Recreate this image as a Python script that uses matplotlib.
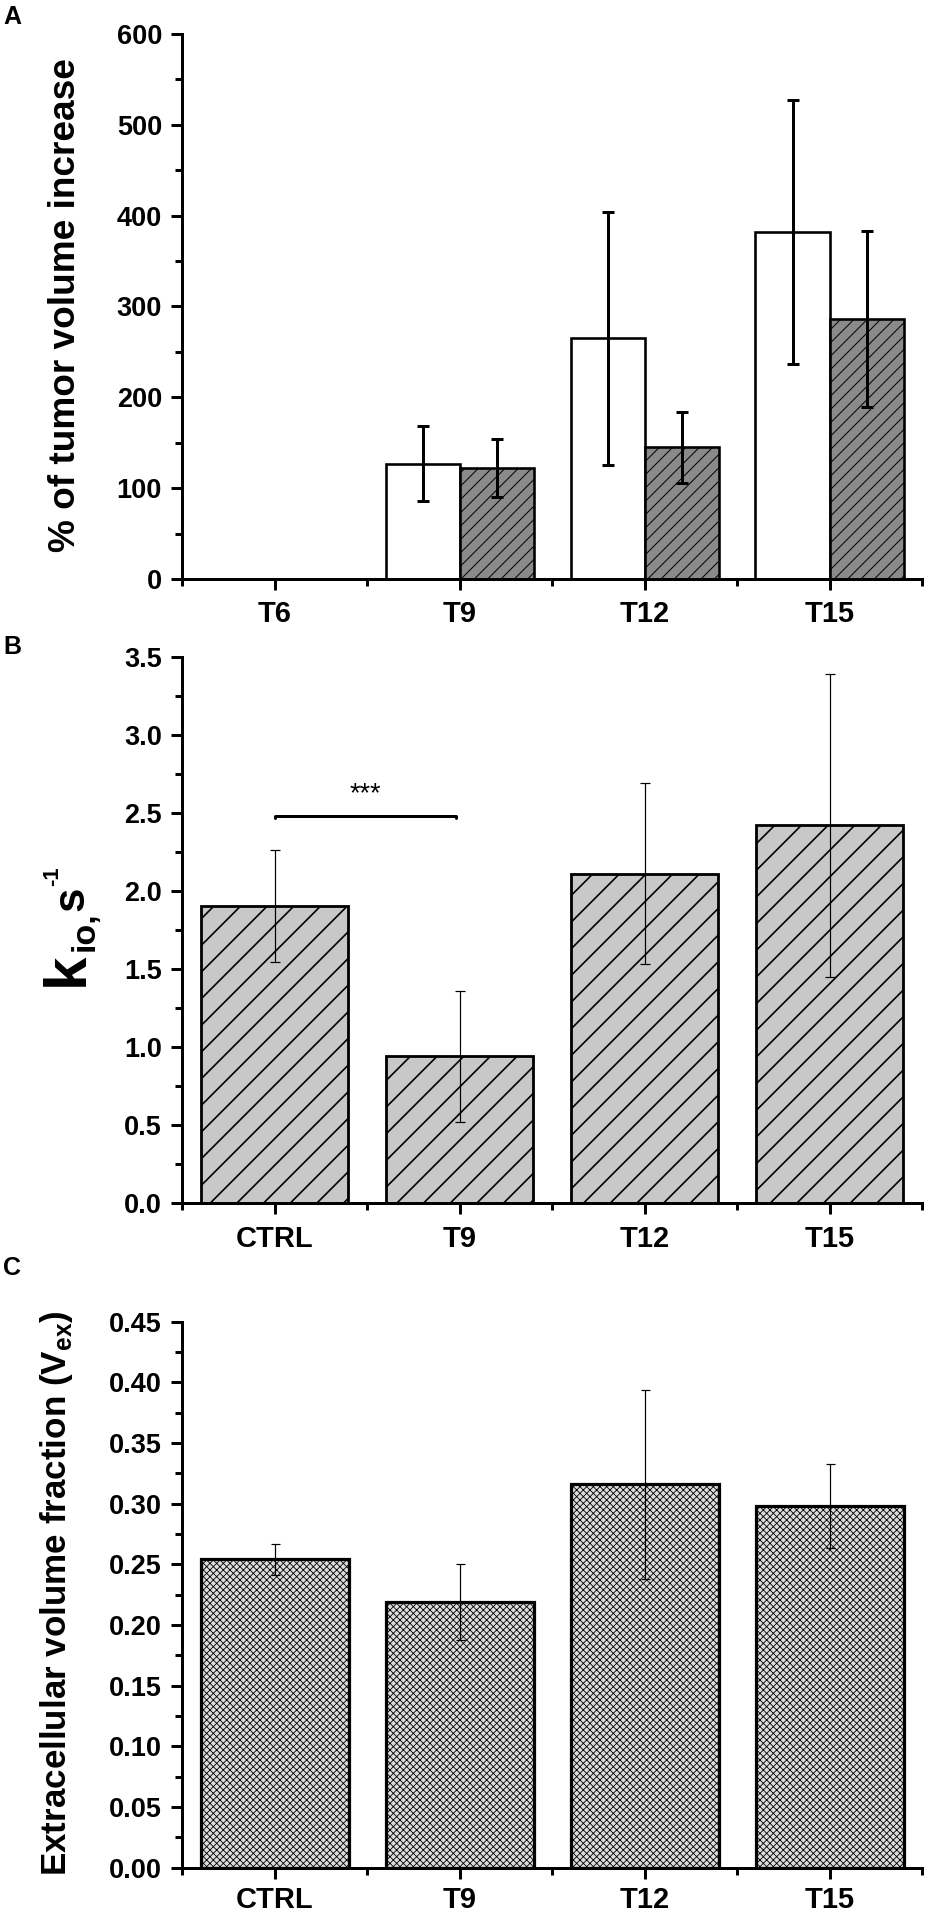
import numpy as np
import matplotlib
matplotlib.use('Agg')
import matplotlib.pyplot as plt
from matplotlib.ticker import MultipleLocator, FixedLocator, FuncFormatter

DPI = 80
W, H = 927, 1910

def pt(p):
    return p * 72.0 / DPI

plt.rcParams['font.family'] = ['Liberation Sans', 'DejaVu Sans']
plt.rcParams['font.weight'] = 'bold'
plt.rcParams['mathtext.fontset'] = 'custom'
plt.rcParams['mathtext.rm'] = 'Liberation Sans:bold'
plt.rcParams['mathtext.bf'] = 'Liberation Sans:bold'

# ---------------- data ----------------
groupsA = ['T6', 'T9', 'T12', 'T15']
ctrlA = [0, 127, 265, 382]
ctrlA_err = [0, 41, 139, 145]
treatA = [0, 122, 145, 286]
treatA_err = [0, 32, 39, 97]

catsB = ['CTRL', 'T9', 'T12', 'T15']
kio = [1.90, 0.94, 2.11, 2.42]
kio_err = [0.36, 0.42, 0.58, 0.97]

catsC = ['CTRL', 'T9', 'T12', 'T15']
vex = [0.254, 0.219, 0.316, 0.298]
vex_err = [0.013, 0.031, 0.078, 0.0345]

fig = plt.figure(figsize=(W / DPI, H / DPI), dpi=DPI)
fig.patch.set_facecolor('white')

LEFT, RIGHT = 182, 922

def make_ax(top, bottom):
    return fig.add_axes([LEFT / W, 1 - bottom / H, (RIGHT - LEFT) / W, (bottom - top) / H])

def style(ax, ylim, ymaj, ymin, fmt, cats, xpad):
    ax.set_xlim(0.5, 4.5)
    ax.set_ylim(*ylim)
    for s in ['top', 'right']:
        ax.spines[s].set_visible(False)
    for s in ['left', 'bottom']:
        ax.spines[s].set_linewidth(pt(3))
    ax.yaxis.set_major_locator(MultipleLocator(ymaj))
    ax.yaxis.set_minor_locator(MultipleLocator(ymin))
    ax.yaxis.set_major_formatter(FuncFormatter(lambda v, p: fmt.format(v)))
    ax.xaxis.set_major_locator(FixedLocator([1, 2, 3, 4]))
    ax.xaxis.set_minor_locator(FixedLocator([0.5, 1.5, 2.5, 3.5, 4.5]))
    ax.set_xticklabels(cats)
    ax.tick_params(which='major', direction='out', length=pt(11), width=pt(3))
    ax.tick_params(which='minor', direction='out', length=pt(7), width=pt(3))
    ax.tick_params(axis='y', which='major', labelsize=pt(27), pad=pt(9))
    ax.tick_params(axis='x', which='major', labelsize=pt(29), pad=pt(xpad))
    for lab in ax.get_xticklabels() + ax.get_yticklabels():
        lab.set_fontweight('bold')

# ---------------- Panel A ----------------
axA = make_ax(34, 579)
xA = np.arange(1, len(groupsA) + 1)
bw = 0.4
plt.rcParams['hatch.linewidth'] = 0.9
for i in range(len(groupsA)):
    if ctrlA[i] > 0:
        axA.bar(xA[i] - bw / 2, ctrlA[i], width=bw, color='white', edgecolor='black',
                linewidth=pt(2.6), zorder=2)
        axA.errorbar(xA[i] - bw / 2, ctrlA[i], yerr=ctrlA_err[i], fmt='none', ecolor='black',
                     elinewidth=pt(3), capsize=pt(6), capthick=pt(3), zorder=4)
    if treatA[i] > 0:
        b = axA.bar(xA[i] + bw / 2, treatA[i], width=bw, color='#8a8a8a', edgecolor='black',
                    linewidth=pt(2.6), hatch='//', zorder=2)
        for p in b:
            try:
                p.set_hatch_linewidth(0.9)
            except AttributeError:
                pass
        axA.errorbar(xA[i] + bw / 2, treatA[i], yerr=treatA_err[i], fmt='none', ecolor='black',
                     elinewidth=pt(3), capsize=pt(6), capthick=pt(3), zorder=4)
style(axA, (0, 600), 100, 50, '{:.0f}', groupsA, 10)

# ---------------- Panel B ----------------
axB = make_ax(656.7, 1202.7)
xB = np.arange(1, len(catsB) + 1)
plt.rcParams['hatch.linewidth'] = 1.5
bB = axB.bar(xB, kio, width=0.79, color='#c8c8c8', edgecolor='black', linewidth=pt(2.8),
             hatch='/', zorder=2)
for p in bB:
    try:
        p.set_hatch_linewidth(1.5)
    except AttributeError:
        pass
axB.errorbar(xB, kio, yerr=kio_err, fmt='none', ecolor='black', elinewidth=pt(1.2),
             capsize=pt(5), capthick=pt(1.2), zorder=4)
axB.plot([1, 1, 1.98, 1.98], [2.465, 2.48, 2.48, 2.465], color='black', lw=pt(3),
         solid_capstyle='round', zorder=4)
axB.text(1.49, 2.575, '***', ha='center', va='baseline', fontsize=pt(27), fontweight='normal')
style(axB, (0, 3.5), 0.5, 0.25, '{:.1f}', catsB, 11)

# ---------------- Panel C ----------------
axC = make_ax(1321.6, 1867.7)
xC = np.arange(1, len(catsC) + 1)
plt.rcParams['hatch.linewidth'] = 0.75
bC = axC.bar(xC, vex, width=0.8, color='#dcdcdc', edgecolor='black', linewidth=pt(3.2),
             hatch='xxxx', zorder=2)
for p in bC:
    try:
        p.set_hatch_linewidth(0.75)
    except AttributeError:
        pass
axC.errorbar(xC, vex, yerr=vex_err, fmt='none', ecolor='black', elinewidth=pt(1.2),
             capsize=pt(4.5), capthick=pt(1.2), zorder=4)
style(axC, (0, 0.45), 0.05, 0.025, '{:.2f}', catsC, 7)

# ---------------- labels ----------------
def fx(x):
    return x / W

def fy(y):
    return 1 - y / H

fig.text(fx(12), fy(17), 'A', ha='center', va='center', fontsize=pt(25), fontweight='bold')
fig.text(fx(12), fy(647), 'B', ha='center', va='center', fontsize=pt(25), fontweight='bold')
fig.text(fx(12), fy(1268), 'C', ha='center', va='center', fontsize=pt(25), fontweight='bold')

fig.text(fx(66), fy(305), '% of tumor volume increase', rotation=90, ha='center', va='center',
         fontsize=pt(37), fontweight='bold')
fig.text(fx(57), fy(1593), r'Extracellular volume fraction (V$_{\mathbf{ex}}$)', rotation=90,
         ha='center', va='center', fontsize=pt(35), fontweight='bold')

# k_io, s^-1 label built from pieces
fig.text(fx(83), fy(986), 'k', rotation=90, rotation_mode='anchor', ha='left', va='baseline',
         fontsize=pt(60), fontweight='bold')
fig.text(fx(94), fy(951), 'io,', rotation=90, rotation_mode='anchor', ha='left', va='baseline',
         fontsize=pt(34), fontweight='bold')
fig.text(fx(83), fy(911), 's', rotation=90, rotation_mode='anchor', ha='left', va='baseline',
         fontsize=pt(44), fontweight='bold')
fig.text(fx(58), fy(886), '-1', rotation=90, rotation_mode='anchor', ha='left', va='baseline',
         fontsize=pt(22), fontweight='bold')

fig.savefig('out.png', dpi=DPI, facecolor='white')
